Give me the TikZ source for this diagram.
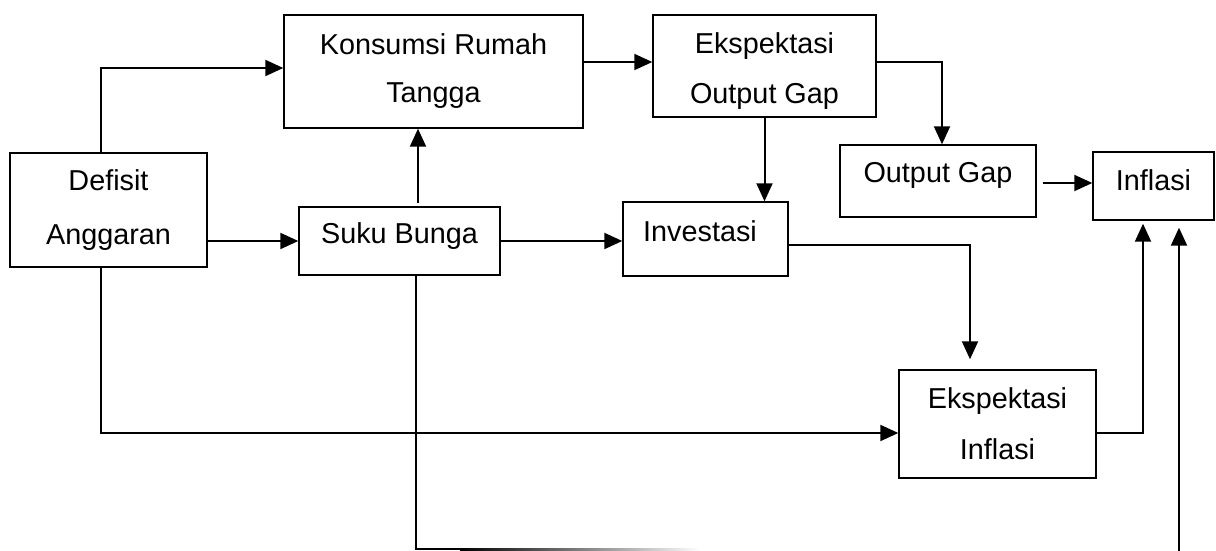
\documentclass[tikz,border=0pt]{standalone}
\usepackage{fontspec}
\setmainfont{Liberation Sans}
\usetikzlibrary{arrows.meta, calc, positioning}
\tikzset{
	box/.style={draw, rectangle, line width=0.7pt, inner sep=0pt},
	txt/.style={font=\fontsize{14.4pt}{25pt}\selectfont, align=center, inner sep=0pt},
	arr/.style={line width=1pt, -{Triangle[length=9pt,width=8pt]}},
	line/.style={line width=1pt}
}
\begin{document}
\begin{tikzpicture}[x=0.5pt,y=-0.5pt]
		\useasboundingbox (0,0) rectangle (1216,551);
		% kotak
		\node[box, minimum width=98.5pt, minimum height=57pt, label={[txt]center:Defisit\\[2pt]Anggaran}] (def) at (108.5,210) {};
		\node[box, minimum width=149.5pt, minimum height=56.5pt, label={[txt, yshift=0.25pt, font=\fontsize{14.4pt}{24pt}\selectfont]center:Konsumsi Rumah\\Tangga}] (kon) at (433.5,71.5) {};
		\node[box, minimum width=111.5pt, minimum height=51pt, label={[txt, yshift=-2.5pt]center:Ekspektasi\\Output Gap}] (eog) at (764.5,66) {};
		\node[box, minimum width=98pt, minimum height=36pt, label={[txt, yshift=3pt]center:Output Gap}] (og) at (938,181) {};
		\node[box, minimum width=60.5pt, minimum height=34pt, label={[txt, yshift=3pt]center:Inflasi}] (inf) at (1153.5,186) {};
		\node[box, minimum width=100.5pt, minimum height=34pt, label={[txt, yshift=2.5pt]center:Suku Bunga}] (suku) at (399.5,241) {};
		\node[box, minimum width=82.5pt, minimum height=37pt, label={[txt, yshift=4pt, xshift=-2.75pt]center:Investasi}] (inv) at (705.5,239) {};
		\node[box, minimum width=98.5pt, minimum height=54pt, label={[txt, font=\fontsize{14.4pt}{25.5pt}\selectfont]center:Ekspektasi\\Inflasi}] (ei) at (997.5,424) {};
		
		% panah
		\draw[arr] ([xshift=-3.75pt]def.north) |- ([yshift=1.75pt]kon.west);
		\draw[arr] ([yshift=4.75pt]kon.east) -- ([yshift=4.75pt]kon.east -| eog.west);
		\draw[arr] ([yshift=2pt]eog.east) -| ([xshift=2pt]og.north);
		\draw[arr] (eog.south) -- (eog.south |- inv.north);
		\draw[arr] (def.east |- suku.west) -- (suku.west);
		\draw[arr] ([xshift=9.25pt,yshift=1.5pt]suku.north) -- ([xshift=9.25pt]suku.north |- kon.south);
		\draw[arr] (suku.east) -- (suku.east -| inv.west);
		\draw[arr] ([yshift=-3pt]inv.east) -| ([xshift=-13.75pt,yshift=5pt]ei.north);
		\draw[arr] ([xshift=-3.75pt]def.south) |- ([yshift=-4.5pt]ei.west);
		\draw[arr] ([yshift=-4.5pt]ei.east) -| ([xshift=-5.25pt,yshift=-1.5pt]inf.south);
		\draw[arr] ([xshift=3pt,yshift=-1pt]og.east) -- ([yshift=-1pt]og.east -| inf.west);
		
		% jalur bawah
		\coordinate (fadeA) at (460,549);
		\coordinate (fadeB) at (700,549);
		\coordinate (low) at (1179,551);
		\draw[line] ([xshift=8.25pt]suku.south) |- (fadeA);
		\shade[left color=black, right color=white] ($(fadeA)+(0,-1)$) rectangle ($(fadeB)+(0,1)$);
		\draw[arr] (low) -- ([xshift=12.75pt,yshift=-3.5pt]inf.south);
		
\end{tikzpicture}
\end{document}
